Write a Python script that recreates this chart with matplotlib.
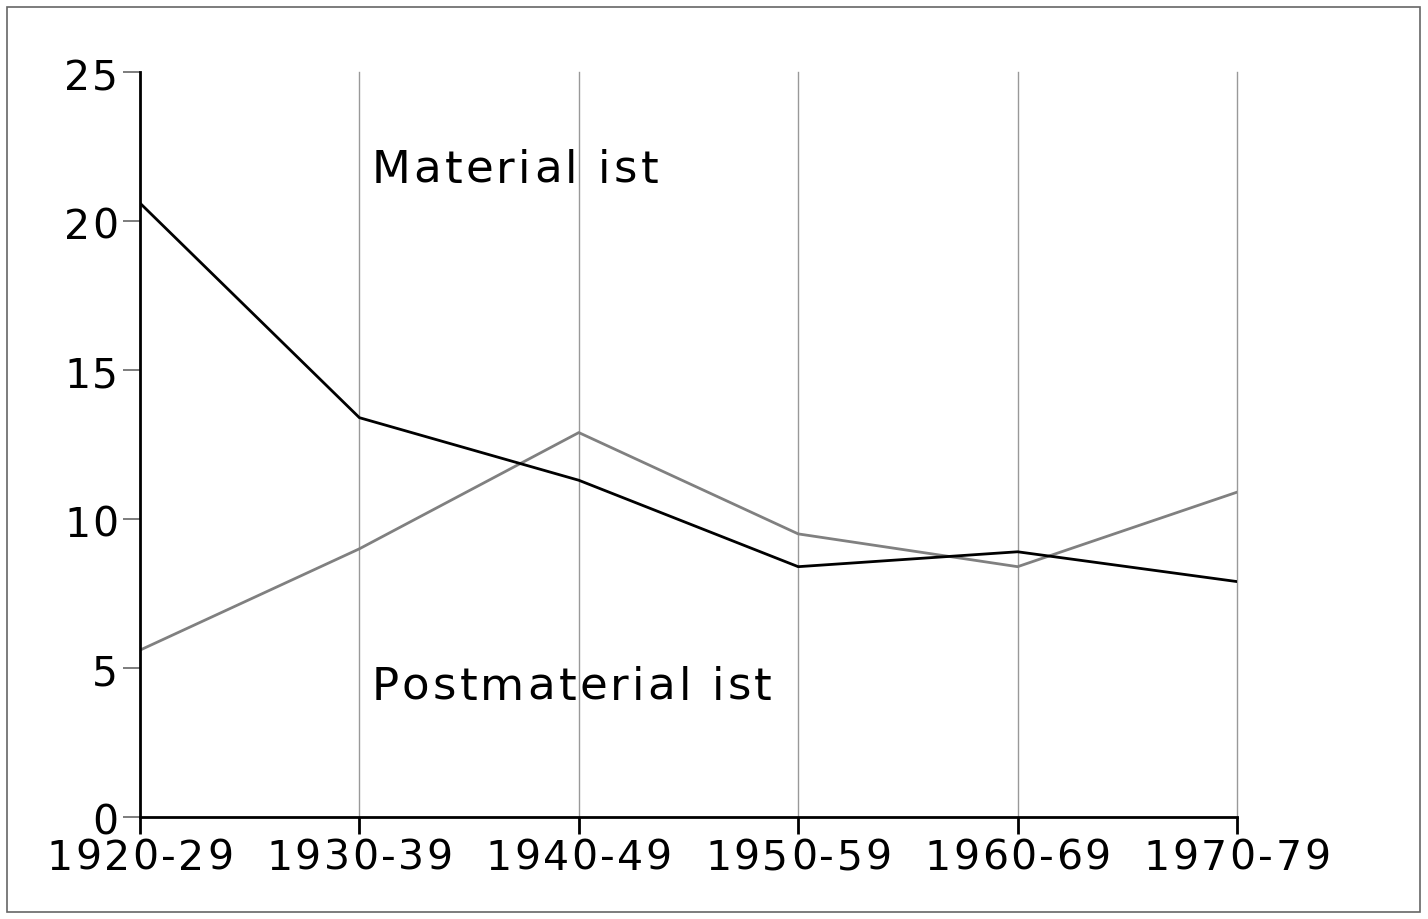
import matplotlib
matplotlib.use("Agg")
import matplotlib.pyplot as plt
from matplotlib.patches import Rectangle
from matplotlib.font_manager import FontProperties, findfont, get_font
from matplotlib.transforms import offset_copy, blended_transform_factory

categories = ["1920-29", "1930-39", "1940-49", "1950-59", "1960-69", "1970-79"]
materialist = [20.6, 13.4, 11.3, 8.4, 8.9, 7.9]
postmaterialist = [5.6, 9.0, 12.9, 9.5, 8.4, 10.9]
yticks = [0, 5, 10, 15, 20, 25]
label_mat = "Material ist"
label_post = "Postmaterial ist"

FAMILY = 'DejaVu Sans'
plt.rcParams['font.family'] = [FAMILY]

fig = plt.figure(figsize=(14.28, 9.2), dpi=100)
fig.patches.append(Rectangle((7/1428, 7/920), 1413/1428, 905/920, transform=fig.transFigure,
                             fill=False, edgecolor='#666666', linewidth=1.2))
ax = fig.add_axes([140/1428, 1 - 818/920, (1237 - 140)/1428, (818 - 73)/920])


def advances(s, size):
    font = get_font(findfont(FontProperties(family=FAMILY)))
    font.set_size(size, 72)
    return [font.load_char(ord(c)).linearHoriAdvance / 65536.0 for c in s]


def tracked_text(x, y, s, size, track, trans, ha='left', dx=0.0, dy=0.0):
    adv = advances(s, size)
    total = sum(adv) + track * (len(s) - 1)
    if ha == 'center':
        start = -total / 2.0
    elif ha == 'right':
        start = -total
    else:
        start = 0.0
    pos = start
    for ch, a in zip(s, adv):
        t = offset_copy(trans, fig=fig, x=dx + pos, y=dy, units='points')
        ax.text(x, y, ch, fontsize=size, ha='left', va='baseline',
                transform=t, clip_on=False, color='black')
        pos += a + track


x = list(range(len(categories)))
for xi in x[1:]:
    ax.axvline(xi, color='#999999', linewidth=1.0, zorder=1, clip_on=False)

ax.plot(x, materialist, color='black', linewidth=2.0, zorder=3)
ax.plot(x, postmaterialist, color='#808080', linewidth=2.0, zorder=2)

ax.set_xlim(0, len(categories) - 1)
ax.set_ylim(0, 25)
ax.set_xticks(x)
ax.set_xticklabels([])
ax.set_yticks(yticks)
ax.set_yticklabels([])

for s in ['top', 'right']:
    ax.spines[s].set_visible(False)
ax.spines['left'].set_linewidth(2)
ax.spines['bottom'].set_linewidth(2)
ax.tick_params(axis='y', length=12, width=1.2, color='#666666')
ax.tick_params(axis='x', length=12, width=2, color='black')

# tick labels with letter spacing
xtrans = blended_transform_factory(ax.transData, ax.transAxes)
for xi, lab in zip(x, categories):
    tracked_text(xi, 0, lab, 29.5, 1.8, xtrans, ha='center', dy=-52 * 0.72)
ytrans = blended_transform_factory(ax.transAxes, ax.transData)
for yv in yticks:
    tracked_text(0, yv, str(yv), 29.5, 1.0, ytrans, ha='right', dx=-22 * 0.72, dy=-17 * 0.72)

tracked_text(1.055, 21.31, label_mat, 32.5, 2.3, ax.transData, ha='left')
tracked_text(1.055, 3.96, label_post, 32.5, 2.3, ax.transData, ha='left')

fig.savefig("out.png", dpi=100)
